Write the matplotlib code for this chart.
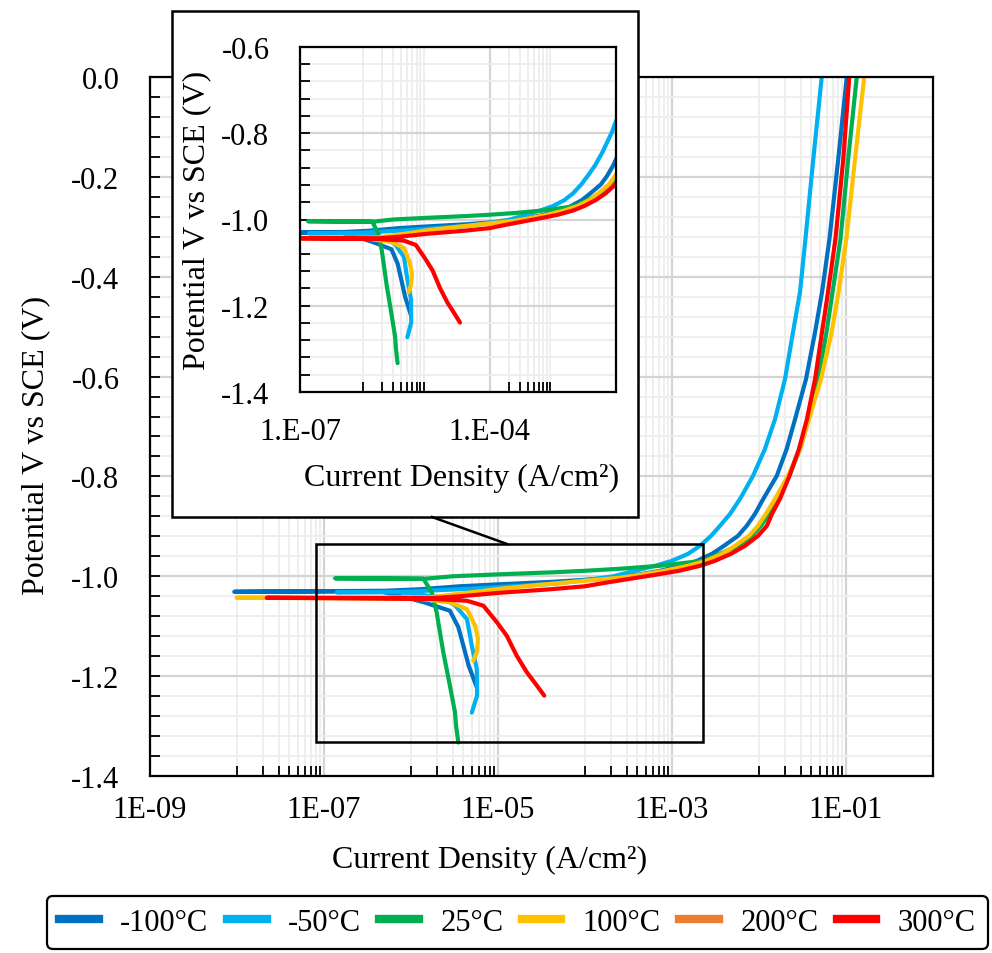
import matplotlib
matplotlib.use("Agg")
import matplotlib.pyplot as plt
import numpy as np
from matplotlib.lines import Line2D
from matplotlib.patches import Rectangle
from matplotlib.ticker import FixedLocator, FixedFormatter, NullFormatter

plt.rcParams["font.family"] = ["Liberation Serif", "DejaVu Serif"]
plt.rcParams["axes.unicode_minus"] = False

# polarisation curves: current density (A/cm2) and potential (V vs SCE), path order
# cathodic end -> corrosion potential -> low-current spike -> anodic end
i_m100 = [5.7e-6, 4.6e-6, 4.0e-6, 3.5e-6, 2.8e-6, 1.4e-6, 1.0e-6, 4.4e-7, 9.3e-9, 5.0e-7,
          1.27e-6, 3.66e-6, 1.05e-5, 4.3e-5, 1.0e-4, 2.1e-4, 4.3e-4, 7.3e-4, 1.30e-3, 1.94e-3,
          2.88e-3, 3.96e-3, 5.74e-3, 7.22e-3, 9.0e-3, 1.12e-2, 1.60e-2, 2.08e-2, 2.60e-2,
          3.47e-2, 4.41e-2, 5.30e-2, 6.46e-2, 8.15e-2, 1.02e-1]
e_m100 = [-1.222, -1.179, -1.139, -1.102, -1.069, -1.052, -1.045, -1.030, -1.031, -1.029,
          -1.026, -1.020, -1.016, -1.011, -1.007, -1.003, -0.996, -0.989, -0.979, -0.969,
          -0.955, -0.939, -0.919, -0.899, -0.875, -0.845, -0.799, -0.745, -0.685,
          -0.605, -0.511, -0.431, -0.324, -0.164, 0.0]

i_m50 = [5.0e-6, 5.75e-6, 5.7e-6, 5.0e-6, 4.4e-6, 3.2e-6, 2.2e-6, 7.5e-7, 1.4e-7, 8.0e-7,
         4.8e-6, 4.3e-5, 1.0e-4, 2.1e-4, 3.76e-4, 6.4e-4, 1.0e-3, 1.53e-3, 2.10e-3, 2.81e-3,
         3.56e-3, 4.65e-3, 6.05e-3, 8.53e-3, 1.17e-2, 1.53e-2, 1.99e-2, 2.46e-2, 2.96e-2,
         3.42e-2, 4.21e-2, 5.26e-2]
e_m50 = [-1.273, -1.239, -1.185, -1.139, -1.086, -1.058, -1.042, -1.032, -1.032, -1.031,
         -1.025, -1.015, -1.008, -1.000, -0.989, -0.979, -0.969, -0.955, -0.939, -0.919,
         -0.899, -0.875, -0.845, -0.799, -0.745, -0.685, -0.605, -0.511, -0.431,
         -0.324, -0.164, 0.0]

i_25 = [3.5e-6, 3.3e-6, 3.2e-6, 2.8e-6, 2.35e-6, 1.97e-6, 1.73e-6, 1.39e-6, 1.34e-7, 1.45e-6,
        3.0e-6, 1.05e-5, 4.3e-5, 1.0e-4, 2.5e-4, 7.2e-4, 2.27e-3, 3.56e-3, 5.74e-3, 8.32e-3,
        1.05e-2, 1.30e-2, 1.61e-2, 2.21e-2, 2.96e-2, 3.71e-2, 4.76e-2, 5.97e-2, 7.0e-2,
        8.65e-2, 1.06e-1, 1.33e-1]
e_25 = [-1.333, -1.300, -1.272, -1.219, -1.152, -1.072, -1.032, -1.005, -1.004, -1.005,
        -1.000, -0.996, -0.992, -0.989, -0.985, -0.979, -0.969, -0.955, -0.939, -0.919,
        -0.899, -0.875, -0.845, -0.799, -0.745, -0.685, -0.605, -0.511, -0.431,
        -0.324, -0.164, 0.0]

i_100 = [5.2e-6, 5.7e-6, 5.9e-6, 5.45e-6, 4.4e-6, 2.8e-6, 1.26e-6, 9.9e-9, 1.65e-6,
         3.66e-6, 1.05e-5, 3.04e-5, 1.0e-4, 2.5e-4, 4.3e-4, 8.1e-4, 1.53e-3, 2.46e-3, 3.76e-3,
         5.29e-3, 7.67e-3, 9.74e-3, 1.20e-2, 1.53e-2, 2.15e-2, 2.96e-2, 3.76e-2, 5.16e-2,
         6.85e-2, 8.2e-2, 1.01e-1, 1.27e-1, 1.62e-1]
e_100 = [-1.169, -1.152, -1.126, -1.099, -1.066, -1.052, -1.045, -1.043, -1.042,
         -1.035, -1.025, -1.017, -1.009, -1.003, -0.997, -0.989, -0.979, -0.969, -0.955,
         -0.939, -0.919, -0.899, -0.875, -0.845, -0.799, -0.745, -0.685, -0.605,
         -0.511, -0.431, -0.324, -0.164, 0.0]

# 200 C curve lies under the 300 C curve in the source figure; only its legend entry shows
i_200 = []
e_200 = []

i_300 = [3.4e-5, 2.8e-5, 2.14e-5, 1.64e-5, 1.26e-5, 9.7e-6, 6.8e-6, 4.4e-6, 1.65e-6, 2.2e-8,
         1.65e-6, 3.66e-6, 1.05e-5, 4.0e-5, 1.0e-4, 1.7e-4, 3.3e-4, 6.4e-4, 1.2e-3, 2.1e-3,
         3.12e-3, 4.76e-3, 6.9e-3, 9.75e-3, 1.23e-2, 1.41e-2, 1.74e-2, 2.24e-2, 2.88e-2,
         3.56e-2, 4.41e-2, 5.30e-2, 6.21e-2, 7.57e-2, 9.31e-2, 1.09e-1]
e_300 = [-1.239, -1.219, -1.192, -1.159, -1.119, -1.092, -1.059, -1.049, -1.045, -1.043,
         -1.044, -1.040, -1.033, -1.026, -1.020, -1.013, -1.005, -0.997, -0.989, -0.979,
         -0.969, -0.955, -0.939, -0.919, -0.899, -0.875, -0.845, -0.799, -0.745,
         -0.685, -0.605, -0.511, -0.431, -0.324, -0.164, 0.0]

labels = ["-100°C", "-50°C", "25°C", "100°C", "200°C", "300°C"]
colors = ["#0070C0", "#00B0F0", "#00B050", "#FFC000", "#ED7D31", "#FF0000"]
series = [(i_m100, e_m100), (i_m50, e_m50), (i_25, e_25), (i_100, e_100), (i_200, e_200), (i_300, e_300)]

main_xticks = [1e-9, 1e-7, 1e-5, 1e-3, 1e-1]
main_xlabels = ["1E-09", "1E-07", "1E-05", "1E-03", "1E-01"]
main_yticks = [0.0, -0.2, -0.4, -0.6, -0.8, -1.0, -1.2, -1.4]
inset_xticks = [1e-7, 1e-4]
inset_xlabels = ["1.E-07", "1.E-04"]
inset_yticks = [-0.6, -0.8, -1.0, -1.2, -1.4]

main_minor_x = [k * 10.0 ** e for e in (-8, -6, -4, -2) for k in range(1, 10)]
inset_minor_x = [k * 10.0 ** e for e in (-6, -4) for k in range(1, 10)]

FS = 22
LAB = 23
LW = 3.0
W = 992
H = 954


def _style(ax, xticks, xlabels, xminor, yticks, ylim, xlim, xpad, ypad):
    ax.set_xscale("log")
    ax.set_xlim(*xlim)
    ax.set_ylim(*ylim)
    ax.xaxis.set_major_locator(FixedLocator(xticks))
    ax.xaxis.set_major_formatter(FixedFormatter(xlabels))
    ax.xaxis.set_minor_locator(FixedLocator(xminor))
    ax.xaxis.set_minor_formatter(NullFormatter())
    ax.yaxis.set_major_locator(FixedLocator(yticks))
    ax.yaxis.set_major_formatter(FixedFormatter([f"{v:.1f}" for v in yticks]))
    ax.yaxis.set_minor_locator(FixedLocator(np.arange(ylim[0], ylim[1] + 1e-9, 0.04)))
    ax.grid(True, which="major", color="#d4d4d4", lw=1.6)
    ax.grid(True, which="minor", color="#ededed", lw=1.3)
    ax.set_axisbelow(True)
    ax.tick_params(axis="x", which="major", length=0, labelsize=FS, pad=xpad)
    ax.tick_params(axis="x", which="minor", direction="in", length=7, width=1.3, color="black")
    ax.tick_params(axis="y", which="both", direction="in", length=7, width=1.3, labelsize=FS, pad=ypad)
    for sp in ax.spines.values():
        sp.set_linewidth(1.6)
        sp.set_color("black")


fig = plt.figure(figsize=(W / 100, H / 100), dpi=100)

ax = fig.add_axes([150 / W, 1 - 777 / H, 783 / W, 699 / H])
_style(ax, main_xticks, main_xlabels, main_minor_x, main_yticks, (-1.4, 0.0), (1e-9, 1e0), 14, 22)
for (x, y), c, lab in zip(series, colors, labels):
    ax.plot(x, y, color=c, lw=LW, label=lab, solid_joinstyle="round", solid_capstyle="round")
ax.add_patch(Rectangle((8.1e-8, -1.332), 2.27e-3 - 8.1e-8, 0.397, fill=False,
                       edgecolor="black", lw=1.8, zorder=5))
ax.set_xlabel("Current Density (A/cm²)", fontsize=LAB)
ax.xaxis.set_label_coords(0.434, -0.098)
ax.set_ylabel("Potential V vs SCE (V)", fontsize=LAB)
ax.yaxis.set_label_coords(-0.128, 0.475)

# inset frame and connector
fig.add_artist(Rectangle((172 / W, 1 - 518 / H), 466 / W, 506 / H, transform=fig.transFigure,
                         facecolor="white", edgecolor="black", lw=1.8, zorder=1))
fig.add_artist(Line2D([432 / W, 507 / W], [1 - 518 / H, 1 - 545 / H], transform=fig.transFigure,
                      color="black", lw=1.8, zorder=1))

ins = fig.add_axes([300 / W, 1 - 393 / H, 316 / W, 345 / H], zorder=2)
_style(ins, inset_xticks, inset_xlabels, inset_minor_x, inset_yticks, (-1.4, -0.6), (1e-7, 1e-2), 18, 22)
for (x, y), c in zip(series, colors):
    ins.plot(x, y, color=c, lw=LW, solid_joinstyle="round", solid_capstyle="round")
ins.set_xlabel("Current Density (A/cm²)", fontsize=LAB)
ins.xaxis.set_label_coords(0.512, -0.205)
ins.set_ylabel("Potential V vs SCE (V)", fontsize=LAB)
ins.yaxis.set_label_coords(-0.282, 0.5)

handles = [Line2D([], [], color=c, lw=6) for c in colors]
leg = fig.legend(handles, labels, loc="lower left", ncol=6, mode="expand",
                 bbox_to_anchor=(47 / W, 1 - 950 / H, 941 / W, 53 / H), borderaxespad=0,
                 fontsize=FS, handlelength=1.3, handletextpad=0.7, columnspacing=0.6,
                 fancybox=True, framealpha=1, edgecolor="black")
leg.get_frame().set_linewidth(1.6)

fig.savefig("out.png", dpi=100)
